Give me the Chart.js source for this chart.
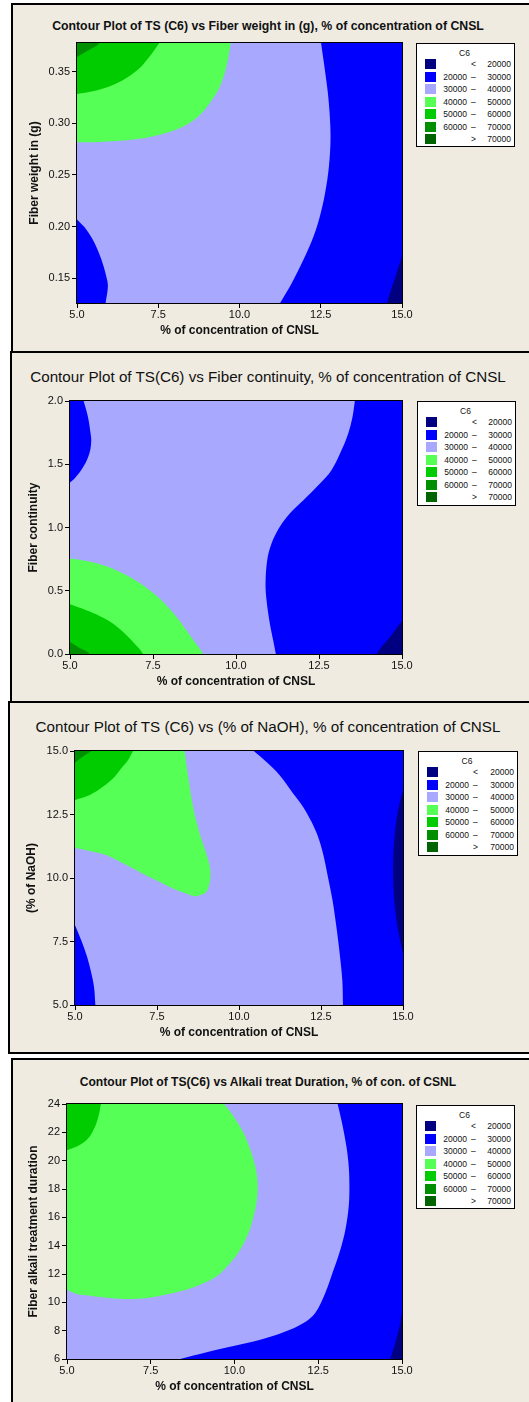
<!DOCTYPE html>
<html lang="en">
<head>
<meta charset="UTF-8" />
<title>Contour plots of TS (C6)</title>
<script src="https://cdn.jsdelivr.net/npm/chart.js"></script>
<style>
  body {
    margin: 0;
    width: 529px;
    height: 1402px;
    overflow: hidden;
    position: relative;
    background: #fff;
    font-family: "Liberation Sans", Arial, sans-serif;
    color: #000;
  }
  .panel {
    position: absolute;
    width: 620px;
    border: 2px solid #000;
    background: #efebe1;
    box-sizing: border-box;
  }
  .ttl {
    position: absolute;
    left: 0;
    width: 536px;
    text-align: center;
    white-space: nowrap;
    color: #111;
  }
  canvas {
    position: absolute;
    left: 0;
  }
  .leg {
    position: absolute;
    border: 1px solid #000;
    background: #fff;
    box-sizing: border-box;
    font-size: 8.5px;
    line-height: 10px;
    color: #111;
  }
  .leg span {
    position: absolute;
    white-space: nowrap;
  }
</style>
</head>
<body>
<div class="panel" style="left:11px;top:3px;height:350px"></div>
<div class="panel" style="left:10px;top:351px;height:352px"></div>
<div class="panel" style="left:8px;top:701px;height:353px"></div>
<div class="panel" style="left:11px;top:1058px;height:400px"></div>

<div class="ttl" style="top:19px;font-size:12.3px;font-weight:bold;line-height:15px">Contour Plot of TS (C6) vs Fiber weight in (g), % of concentration of CNSL</div>
<div class="ttl" style="top:368px;font-size:15.2px;line-height:18px">Contour Plot of TS(C6) vs Fiber continuity, % of concentration of CNSL</div>
<div class="ttl" style="top:718px;font-size:15.2px;line-height:18px">Contour Plot of TS (C6) vs (% of NaOH), % of concentration of CNSL</div>
<div class="ttl" style="top:1075px;font-size:12.1px;font-weight:bold;line-height:15px">Contour Plot of TS(C6) vs Alkali treat Duration, % of con. of CSNL</div>

<canvas id="c1" width="529" height="348" style="top:4px"></canvas>
<canvas id="c2" width="529" height="350" style="top:352px"></canvas>
<canvas id="c3" width="529" height="351" style="top:702px"></canvas>
<canvas id="c4" width="529" height="343" style="top:1059px"></canvas>

<div class="leg" id="l1" style="left:416px;top:43px;width:99px;height:104px"></div>
<div class="leg" id="l2" style="left:417px;top:401px;width:99px;height:105px"></div>
<div class="leg" id="l3" style="left:418px;top:751px;width:100px;height:105px"></div>
<div class="leg" id="l4" style="left:416px;top:1105px;width:99px;height:104px"></div>

<script>
// shared x axis: % of concentration of CNSL
const xRange = [5, 15];
const xTicks = [5, 7.5, 10, 12.5, 15];

// contour bins (legend "C6")
const binColors = ["#000080", "#0000ff", "#a8a8ff", "#55ff55", "#00cc00", "#008f00", "#006400"];
const binLow = ["", "20000", "30000", "40000", "50000", "60000", ""];
const binSign = ["<", "\u2013", "\u2013", "\u2013", "\u2013", "\u2013", ">"];
const binHigh = ["20000", "30000", "40000", "50000", "60000", "70000", "70000"];

// boundary curves; the first/last points run just
// past the plot edge so the clipped fill meets the frame cleanly

// panel 1: Fiber weight in (g)
const p1Range = [0.1261, 0.3777];
const p1Ticks = [0.15, 0.2, 0.25, 0.3, 0.35];
const p1BlueRight = [[12.41,0.40],[12.51,0.3777],[12.64,0.3487],[12.74,0.3229],[12.80,0.2906],[12.77,0.2648],[12.67,0.2390],[12.50,0.2132],[12.28,0.1906],[11.97,0.1681],[11.61,0.1455],[11.25,0.1261],[10.77,0.10],[15.5,0.10],[15.5,0.40]];
const p1BlueLeft = [[4.7,0.2168],[5,0.2068],[5.29,0.1971],[5.54,0.1842],[5.75,0.1681],[5.90,0.1519],[5.95,0.1423],[5.88,0.1261],[5.77,0.10],[4.7,0.10]];
const p1Navy = [[14.35,0.10],[14.54,0.1261],[14.78,0.150],[15,0.1713],[15.3,0.20],[15.3,0.10]];
const p1Light = [[4.7,0.40],[9.86,0.40],[9.73,0.3777],[9.60,0.3552],[9.40,0.3358],[9.09,0.3197],[8.68,0.3052],[8.17,0.2955],[7.55,0.2890],[6.73,0.2842],[5.70,0.2819],[5,0.2816],[4.7,0.2815]];
const p1Green = [[4.7,0.40],[8.0,0.40],[7.53,0.3777],[7.24,0.3648],[6.93,0.3535],[6.52,0.3439],[6.01,0.3358],[5.49,0.3310],[5,0.3284],[4.7,0.3270]];
const p1Dark = [[4.7,0.40],[6.2,0.40],[5.70,0.3777],[5.39,0.3713],[5,0.3642],[4.7,0.3590]];

// panel 2: Fiber continuity
const p2Range = [0, 2];
const p2Ticks = [0, 0.5, 1, 1.5, 2];
const p2BlueTop = [[4.7,2.2],[5.20,2.2],[5.41,2],[5.54,1.876],[5.62,1.744],[5.64,1.691],[5.61,1.612],[5.51,1.533],[5.34,1.454],[5.14,1.388],[5,1.356],[4.7,1.287]];
const p2BlueRight = [[13.69,2.2],[13.58,2],[13.51,1.876],[13.38,1.744],[13.18,1.612],[12.88,1.454],[12.53,1.348],[12.03,1.216],[11.62,1.111],[11.32,1.005],[11.07,0.873],[10.94,0.741],[10.89,0.557],[10.92,0.425],[11.02,0.240],[11.12,0.108],[11.20,0],[11.35,-0.2],[15.3,-0.2],[15.3,2.2]];
const p2Navy = [[14.05,-0.2],[14.24,0],[14.64,0.135],[15,0.261],[15.3,0.36],[15.3,-0.2]];
const p2Light = [[4.7,0.767],[5,0.755],[5.49,0.736],[6.10,0.694],[6.70,0.623],[7.20,0.544],[7.70,0.438],[8.21,0.293],[8.61,0.148],[9.01,0],[9.4,-0.2],[4.7,-0.2]];
const p2Green = [[4.7,0.422],[5,0.393],[5.49,0.346],[5.89,0.301],[6.30,0.240],[6.60,0.174],[6.90,0.095],[7.20,0],[7.5,-0.2],[4.7,-0.2]];
const p2Dark = [[4.7,0.14],[5,0.095],[5.29,0.047],[5.59,0],[5.9,-0.2],[4.7,-0.2]];

// panel 3: % of NaOH
const p3Range = [5, 15];
const p3Ticks = [5, 7.5, 10, 12.5, 15];
const p3BlueRight = [[10.09,15.4],[10.45,15],[10.83,14.58],[11.24,14.05],[11.65,13.33],[11.95,12.81],[12.21,12.21],[12.41,11.62],[12.56,10.97],[12.71,10.05],[12.85,9.13],[12.97,8.07],[13.07,7.02],[13.15,5.97],[13.17,5],[13.18,4.6],[15.3,4.6],[15.3,15.4]];
const p3Navy = [[15.3,14.0],[15.1,14.0],[15,13.46],[14.85,12.67],[14.75,11.75],[14.70,10.70],[14.70,9.91],[14.75,8.86],[14.85,7.94],[15,7.02],[15.1,6.4],[15.3,6.4]];
const p3BlueLeft = [[4.8,8.76],[5,8.14],[5.19,7.55],[5.37,6.89],[5.50,6.24],[5.58,5.71],[5.62,5],[5.63,4.6],[4.7,4.6]];
const p3Light = [[4.7,15.4],[8.30,15.4],[8.34,15],[8.45,13.99],[8.60,12.81],[8.80,11.75],[9.00,10.97],[9.11,10.44],[9.13,10.05],[9.09,9.72],[9.00,9.45],[8.80,9.32],[8.65,9.28],[8.39,9.39],[7.99,9.59],[7.48,9.91],[6.97,10.24],[6.57,10.51],[5.96,10.90],[5.55,11.03],[5,11.19],[4.7,11.27]];
const p3Green = [[4.7,15.4],[6.94,15.4],[6.77,15],[6.62,14.65],[6.41,14.32],[6.21,13.99],[5.85,13.59],[5.45,13.27],[5,13.07],[4.7,12.94]];
const p3Dark = [[4.7,15.4],[5.97,15.4],[5.50,15],[5.24,14.78],[5,14.54],[4.7,14.2]];

// panel 4: Fiber alkali treatment duration
const p4Range = [6, 24];
const p4Ticks = [6, 8, 10, 12, 14, 16, 18, 20, 22, 24];
const p4BlueRight = [[13.01,24.7],[13.08,24],[13.21,22.66],[13.34,21.01],[13.41,19.60],[13.43,18.19],[13.41,16.78],[13.31,15.13],[13.16,13.72],[12.96,12.31],[12.71,10.66],[12.41,9.25],[12.06,8.54],[11.46,7.88],[10.77,7.36],[9.97,6.92],[9.17,6.48],[8.38,6.0],[7.6,5.5],[15.3,5.5],[15.3,24.7]];
const p4Navy = [[14.56,5.3],[14.65,6],[14.80,7.13],[14.93,8.31],[15,9.25],[15.1,10.3],[15.3,10.3],[15.3,5.3]];
const p4Light = [[4.7,24.7],[9.46,24.7],[9.69,24],[9.97,23.13],[10.27,21.95],[10.47,20.78],[10.62,19.60],[10.69,18.42],[10.67,17.25],[10.57,16.07],[10.42,14.89],[10.17,13.72],[9.87,12.78],[9.47,11.84],[8.97,11.25],[8.38,10.78],[7.68,10.42],[6.98,10.24],[6.28,10.31],[5.69,10.47],[5.29,10.59],[5,10.89],[4.7,11.2]];
const p4Green = [[4.7,24.7],[6.05,24.7],[6.01,24],[5.94,23.13],[5.84,22.42],[5.64,21.60],[5.39,21.13],[5,20.73],[4.7,20.42]];

function baseRect(yr) {
  return [[xRange[0], yr[0]], [xRange[1], yr[0]], [xRange[1], yr[1]], [xRange[0], yr[1]]];
}

const panels = [
  {
    id: "c1", legend: "l1", top: 4, height: 348, plot: [77, 402, 43, 303], yTitleX: 34.7, xTitleY: 330.7,
    yRange: p1Range, yTicks: p1Ticks, yFmt: (v) => v.toFixed(2), yTitle: "Fiber weight in (g)",
    regions: [[2, baseRect(p1Range)], [1, p1BlueRight], [1, p1BlueLeft], [0, p1Navy], [3, p1Light], [4, p1Green], [5, p1Dark]],
  },
  {
    id: "c2", legend: "l2", top: 352, height: 350, plot: [70, 402, 401, 654], yTitleX: 33.3, xTitleY: 681.7,
    yRange: p2Range, yTicks: p2Ticks, yFmt: (v) => v.toFixed(1), yTitle: "Fiber continuity",
    regions: [[2, baseRect(p2Range)], [1, p2BlueTop], [1, p2BlueRight], [0, p2Navy], [3, p2Light], [4, p2Green], [5, p2Dark]],
  },
  {
    id: "c3", legend: "l3", top: 702, height: 351, plot: [75, 403, 751, 1005], yTitleX: 31.7, xTitleY: 1032.3,
    yRange: p3Range, yTicks: p3Ticks, yFmt: (v) => v.toFixed(1), yTitle: "(% of NaOH)",
    regions: [[2, baseRect(p3Range)], [1, p3BlueRight], [0, p3Navy], [1, p3BlueLeft], [3, p3Light], [4, p3Green], [5, p3Dark]],
  },
  {
    id: "c4", legend: "l4", top: 1059, height: 343, plot: [67, 402, 1104, 1359], yTitleX: 33.3, xTitleY: 1386.7,
    yRange: p4Range, yTicks: p4Ticks, yFmt: (v) => String(v), yTitle: "Fiber alkali treatment duration",
    regions: [[2, baseRect(p4Range)], [1, p4BlueRight], [0, p4Navy], [3, p4Light], [4, p4Green]],
  },
];

const frame = {
  id: "frame",
  afterDatasetsDraw(chart) {
    const { ctx, chartArea: a } = chart;
    ctx.save();
    ctx.strokeStyle = "#000";
    ctx.lineWidth = 1;
    ctx.strokeRect(a.left - 0.5, a.top - 0.5, a.width + 1, a.height + 1);
    ctx.restore();
  },
};

const tickFont = { family: "'Liberation Sans', Arial, sans-serif", size: 11, lineHeight: 1.2 };
const titleFont = { family: "'Liberation Sans', Arial, sans-serif", size: 12, weight: "bold", lineHeight: 1.2 };

function drawPanel(p) {
  const half = 7.2;
  const [l, r, t, b] = p.plot;
  const scaleLeft = p.yTitleX - half;
  const scaleBottom = p.xTitleY + half - p.top;
  const wy = l - scaleLeft;
  const hx = scaleBottom - (b - p.top);

  const datasets = p.regions.map(([bin, pts], i) => ({
    data: pts.map(([x, y]) => ({ x, y })),
    backgroundColor: binColors[bin],
    borderWidth: 0,
    pointRadius: 0,
    fill: "shape",
    tension: i === 0 ? 0 : 0.35,
    order: p.regions.length - i,
  }));

  new Chart(document.getElementById(p.id), {
    type: "line",
    data: { datasets },
    options: {
      responsive: false,
      animation: false,
      events: [],
      elements: { line: { capBezierPoints: false } },
      layout: {
        padding: { left: scaleLeft, right: 529 - r, top: t - p.top, bottom: p.height - scaleBottom },
      },
      plugins: { legend: { display: false }, tooltip: { enabled: false } },
      scales: {
        x: {
          type: "linear",
          min: xRange[0],
          max: xRange[1],
          afterBuildTicks: (s) => { s.ticks = xTicks.map((v) => ({ value: v })); },
          afterFit: (s) => { s.height = hx; },
          border: { display: false },
          grid: { drawOnChartArea: false, drawTicks: true, tickLength: 5, color: "#000" },
          ticks: { font: tickFont, color: "#111", padding: 0, maxRotation: 0, callback: (v) => v.toFixed(1) },
          title: { display: true, text: "% of concentration of CNSL", font: titleFont, color: "#111", padding: 0 },
        },
        y: {
          type: "linear",
          min: p.yRange[0],
          max: p.yRange[1],
          afterBuildTicks: (s) => { s.ticks = p.yTicks.map((v) => ({ value: v })); },
          afterFit: (s) => { s.width = wy; },
          border: { display: false },
          grid: { drawOnChartArea: false, drawTicks: true, tickLength: 5, color: "#000" },
          ticks: { font: tickFont, color: "#111", padding: 2, callback: p.yFmt },
          title: { display: true, text: p.yTitle, font: titleFont, color: "#111", padding: 0 },
        },
      },
    },
    plugins: [frame],
  });
}

function drawLegend(id) {
  const box = document.getElementById(id);
  const w = box.clientWidth;
  let html = '<span style="left:0;width:' + (w - 2) + 'px;text-align:center;top:4px">C6</span>';
  binColors.forEach((c, i) => {
    const cy = 20 + i * 12.55;
    html += '<span style="left:8px;top:' + (cy - 5) + 'px;width:11px;height:10px;background:' + c + '"></span>';
    html += '<span style="right:' + (w - 50) + 'px;top:' + (cy - 5) + 'px">' + binLow[i] + "</span>";
    html += '<span style="left:54px;top:' + (cy - 5) + 'px">' + binSign[i] + "</span>";
    html += '<span style="right:3px;top:' + (cy - 5) + 'px">' + binHigh[i] + "</span>";
  });
  box.innerHTML = html;
}

panels.forEach((p) => {
  drawPanel(p);
  drawLegend(p.legend);
});
</script>
</body>
</html>
